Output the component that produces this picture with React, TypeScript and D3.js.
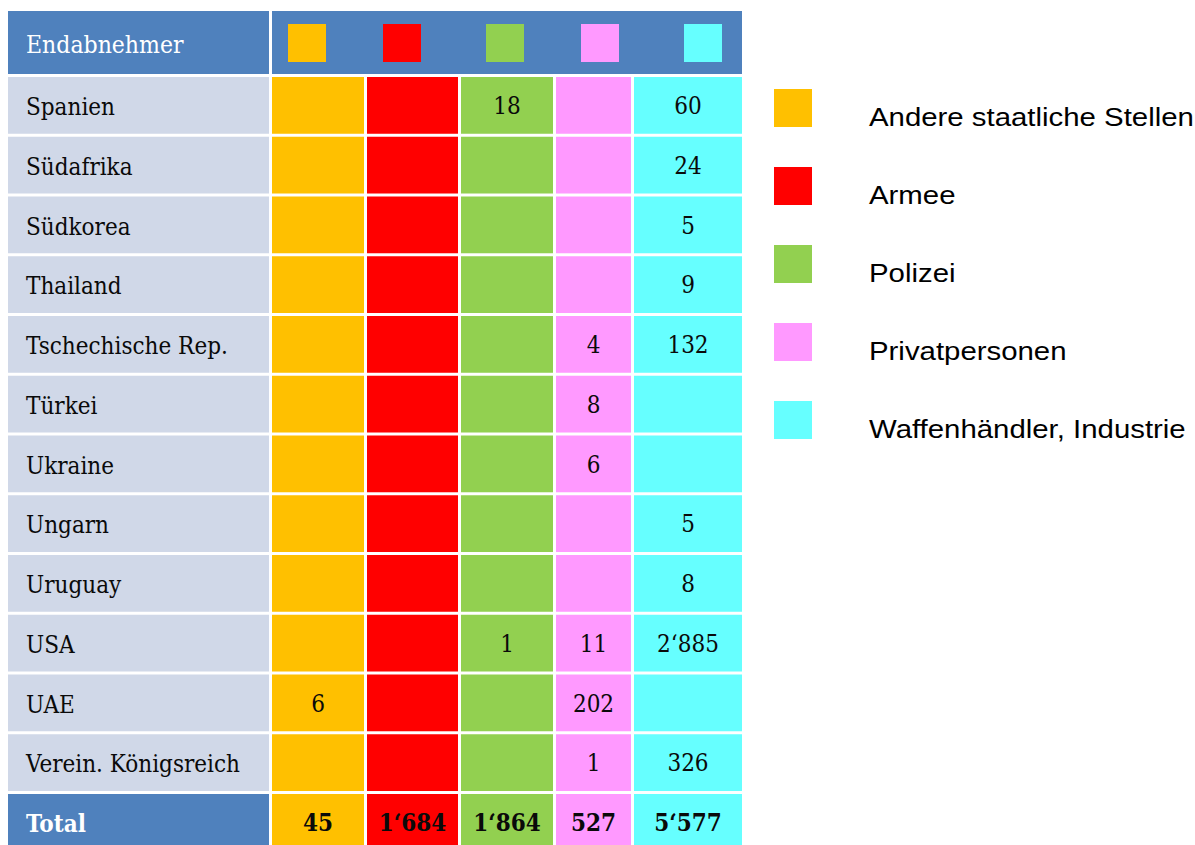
import React, { useEffect, useRef } from 'react';
import * as d3 from 'd3';

// table content
const countries = [
  'Spanien', 'Südafrika', 'Südkorea', 'Thailand', 'Tschechische Rep.', 'Türkei',
  'Ukraine', 'Ungarn', 'Uruguay', 'USA', 'UAE', 'Verein. Königsreich',
];
const categories = ['Andere staatliche Stellen', 'Armee', 'Polizei', 'Privatpersonen', 'Waffenhändler, Industrie'];
const colors = ['#FFC000', '#FF0000', '#92D050', '#FF99FF', '#66FFFF'];

const andere = [null, null, null, null, null, null, null, null, null, null, 6, null];
const armee = [null, null, null, null, null, null, null, null, null, null, null, null];
const polizei = [18, null, null, null, null, null, null, null, null, 1, null, null];
const privat = [null, null, null, null, 4, 8, 6, null, null, 11, 202, 1];
const handel = [60, 24, 5, 9, 132, null, null, 5, 8, 2885, null, 326];
const totals = [45, 1684, 1864, 527, 5577];

const headerLabel = 'Endabnehmer';
const totalLabel = 'Total';

const W = 1195;
const H = 845;

const App: React.FC = () => {
  const svgRef = useRef<SVGSVGElement>(null);

  useEffect(() => {
    if (!svgRef.current) return;
    const svg = d3.select(svgRef.current);
    svg.selectAll('*').remove();

    const series = [andere, armee, polizei, privat, handel];
    const fmt = d3.formatLocale({ decimal: '.', thousands: '\u2018', grouping: [3], currency: ['', ''] }).format(',d');
    const serif = "'DejaVu Serif Condensed', 'DejaVu Serif', serif";

    const left = 8;
    const labelW = 261;
    const gap = 3;
    const colW = [92, 91, 92, 75, 108];
    const colX: number[] = [];
    let x = left + labelW + gap;
    colW.forEach(w => { colX.push(x); x += w + gap; });
    const tableRight = colX[4] + colW[4];

    const rowKeys = [...countries, totalLabel];
    const y = d3.scaleBand<string>()
      .domain(rowKeys)
      .range([77, 77 + 59.75 * (rowKeys.length - 0.05)])
      .paddingInner(0.05)
      .paddingOuter(0)
      .align(0);

    // header
    svg.append('rect').attr('x', left).attr('y', 11).attr('width', labelW).attr('height', 63).attr('fill', '#4F81BD');
    svg.append('rect').attr('x', colX[0]).attr('y', 11).attr('width', tableRight - colX[0]).attr('height', 63).attr('fill', '#4F81BD');
    svg.append('text')
      .attr('x', 26).attr('y', 53)
      .style('font-family', serif).style('font-size', '24.5px').style('fill', '#fff')
      .text(headerLabel);
    const squareOffset = [16, 16, 25, 25, 50];
    colors.forEach((c, i) => {
      svg.append('rect')
        .attr('x', colX[i] + squareOffset[i]).attr('y', 24)
        .attr('width', 38).attr('height', 38).attr('fill', c);
    });

    // body rows
    rowKeys.forEach((key, r) => {
      const top = y(key)!;
      const h = y.bandwidth();
      const isTotal = key === totalLabel;
      svg.append('rect')
        .attr('x', left).attr('y', top).attr('width', labelW).attr('height', h)
        .attr('fill', isTotal ? '#4F81BD' : '#D0D8E8');
      svg.append('text')
        .attr('x', 26).attr('y', top + 38)
        .style('font-family', serif).style('font-size', '24px')
        .style('font-weight', isTotal ? 'bold' : 'normal')
        .style('fill', isTotal ? '#fff' : '#0a0a0a')
        .text(key);
      colors.forEach((c, i) => {
        svg.append('rect')
          .attr('x', colX[i]).attr('y', top).attr('width', colW[i]).attr('height', h)
          .attr('fill', c);
        const v = isTotal ? totals[i] : series[i][r];
        if (v != null) {
          svg.append('text')
            .attr('x', colX[i] + colW[i] / 2).attr('y', top + 37)
            .attr('text-anchor', 'middle')
            .style('font-family', serif).style('font-size', '24px')
            .style('font-weight', isTotal ? 'bold' : 'normal')
            .style('fill', '#0a0a0a')
            .text(fmt(v));
        }
      });
    });

    // legend (text in the source is stretched horizontally)
    const ly = d3.scalePoint<string>().domain(categories).range([89, 401]);
    categories.forEach((cat, i) => {
      svg.append('rect')
        .attr('x', 774).attr('y', ly(cat)!).attr('width', 38).attr('height', 38)
        .attr('fill', colors[i]);
      svg.append('text')
        .attr('transform', `translate(869,${ly(cat)! + 37}) scale(1.175,1)`)
        .style('font-family', "'Liberation Sans', Arial, sans-serif").style('font-size', '25px')
        .style('fill', '#000')
        .text(cat);
    });
  }, []);

  return (
    <svg ref={svgRef} width={W} height={H} style={{ position: 'absolute', left: 0, top: 0, background: '#fff' }} />
  );
};

export default App;
